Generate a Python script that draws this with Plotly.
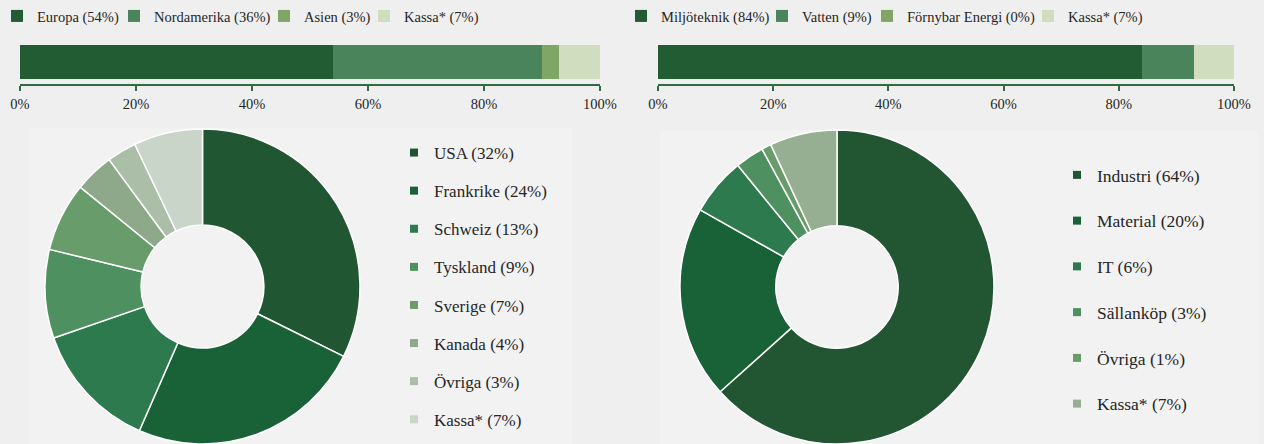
import plotly.graph_objects as go

# ---- data ----
region_labels = ["Europa (54%)", "Nordamerika (36%)", "Asien (3%)", "Kassa* (7%)"]
region_values = [54, 36, 3, 7]

theme_labels = ["Miljöteknik (84%)", "Vatten (9%)", "Förnybar Energi (0%)", "Kassa* (7%)"]
theme_values = [84, 9, 0, 7]

country_labels = ["USA (32%)", "Frankrike (24%)", "Schweiz (13%)", "Tyskland (9%)",
                  "Sverige (7%)", "Kanada (4%)", "Övriga (3%)", "Kassa* (7%)"]
country_values = [32, 24, 13, 9, 7, 4, 3, 7]

sector_labels = ["Industri (64%)", "Material (20%)", "IT (6%)", "Sällanköp (3%)",
                 "Övriga (1%)", "Kassa* (7%)"]
sector_values = [64, 20, 6, 3, 1, 7]

tick_vals = [0, 20, 40, 60, 80, 100]
tick_text = ["0%", "20%", "40%", "60%", "80%", "100%"]

# ---- styles ----
region_colors = ["#225c33", "#4a845a", "#7fa665", "#d0ddbf"]
theme_colors = ["#225c33", "#4a845a", "#7fa665", "#d0ddbf"]
country_colors = ["#215632", "#196136", "#2c7a4e", "#4e9060", "#689c6a",
                  "#8ea98a", "#abbfa8", "#c8d5c8"]
sector_colors = ["#225632", "#196136", "#2c7a4e", "#4e9060", "#689c6a", "#96af92"]
# legend entry widths (px) for the horizontal legends
region_entry_w = [72, 105, 55, 85]
theme_entry_w = [96, 60, 116, 85]

W, H = 1264, 444
FONT = "Liberation Serif, Times New Roman, serif"
TXT = "#262626"
AX = "#2f6b45"
BG = "#efefef"

fig = go.Figure()


def px(x):
    return x / W


def py(y):
    return 1 - y / H


# stacked bars
for lab, val, col, ew in zip(region_labels, region_values, region_colors, region_entry_w):
    fig.add_trace(go.Bar(x=[val], y=[0], orientation="h", name=lab, marker_color=col,
                         marker_line_width=0, width=1, xaxis="x", yaxis="y",
                         legend="legend", legendwidth=ew, hoverinfo="name"))
for lab, val, col, ew in zip(theme_labels, theme_values, theme_colors, theme_entry_w):
    fig.add_trace(go.Bar(x=[val], y=[0], orientation="h", name=lab, marker_color=col,
                         marker_line_width=0, width=1, xaxis="x2", yaxis="y2",
                         legend="legend2", legendwidth=ew, hoverinfo="name"))

# donuts
fig.add_trace(go.Pie(values=country_values, labels=country_labels, sort=False,
                     direction="clockwise", rotation=0, hole=0.39,
                     marker=dict(colors=country_colors, line=dict(color="white", width=1.5)),
                     textinfo="none", showlegend=False,
                     domain=dict(x=[px(44), px(361)], y=[0, py(129)])))
fig.add_trace(go.Pie(values=sector_values, labels=sector_labels, sort=False,
                     direction="clockwise", rotation=0, hole=0.39,
                     marker=dict(colors=sector_colors, line=dict(color="white", width=1.5)),
                     textinfo="none", showlegend=False,
                     domain=dict(x=[px(677), px(997)], y=[0, py(130)])))

# legend entries for the donuts
for i, (lab, col) in enumerate(zip(country_labels, country_colors)):
    fig.add_trace(go.Scatter(x=[None], y=[None], mode="markers", name=lab,
                             marker=dict(symbol="square", size=8, color=col),
                             xaxis="x", yaxis="y", legend="legend3",
                             legendgroup="c%d" % i))
for i, (lab, col) in enumerate(zip(sector_labels, sector_colors)):
    fig.add_trace(go.Scatter(x=[None], y=[None], mode="markers", name=lab,
                             marker=dict(symbol="square", size=8, color=col),
                             xaxis="x", yaxis="y", legend="legend4",
                             legendgroup="s%d" % i))

axis_common = dict(range=[0, 100], tickmode="array", tickvals=tick_vals, ticktext=tick_text,
                   showgrid=False, zeroline=False, showline=True, linecolor=AX,
                   linewidth=1.5, ticks="outside", ticklen=5, tickcolor=AX,
                   tickwidth=1.5, tickfont=dict(family=FONT, size=14.5, color=TXT),
                   ticklabelstandoff=1, fixedrange=True, automargin=False)
# bar occupies y 45..79 px, axis line sits at y 84 px
yaxis_common = dict(range=[-0.5 - 5 / 34, 0.5], visible=False, fixedrange=True)


def leg_style(size):
    return dict(font=dict(family=FONT, size=size, color=TXT), bgcolor="rgba(0,0,0,0)",
                borderwidth=0, itemsizing="trace")


fig.update_layout(
    width=W, height=H,
    autosize=False,
    font=dict(family=FONT, size=15, color=TXT),
    margin=dict(l=0, r=0, t=0, b=0, pad=0, autoexpand=False),
    paper_bgcolor=BG, plot_bgcolor="rgba(0,0,0,0)",
    barmode="stack", bargap=0,
    showlegend=True,
    xaxis=dict(domain=[px(20), px(600)], anchor="y", **axis_common),
    yaxis=dict(domain=[py(84), py(45)], anchor="x", **yaxis_common),
    xaxis2=dict(domain=[px(658), px(1234)], anchor="y2", **axis_common),
    yaxis2=dict(domain=[py(84), py(45)], anchor="x2", **yaxis_common),
    legend=dict(orientation="h", x=px(-3), xanchor="left", y=py(0), yanchor="top",
                traceorder="normal", **leg_style(14.5)),
    legend2=dict(orientation="h", x=px(621), xanchor="left", y=py(0), yanchor="top",
                 traceorder="normal", **leg_style(14.5)),
    legend3=dict(orientation="v", x=px(394), xanchor="left", y=py(135), yanchor="top",
                 traceorder="grouped", tracegroupgap=13, **leg_style(17)),
    legend4=dict(orientation="v", x=px(1057), xanchor="left", y=py(157), yanchor="top",
                 traceorder="grouped", tracegroupgap=20, **leg_style(17.5)),
    shapes=[
        dict(type="rect", xref="paper", yref="paper", x0=px(29), x1=px(572),
             y0=0, y1=py(128), fillcolor="#f2f2f2", line_width=0, layer="below"),
        dict(type="rect", xref="paper", yref="paper", x0=px(660), x1=px(1258),
             y0=0, y1=py(130), fillcolor="#f2f2f2", line_width=0, layer="below"),
    ],
)

fig.write_html(
    "out.html",
    config={"displayModeBar": False},
    post_script="document.body.style.margin='0px';document.body.style.overflow='hidden';",
)
